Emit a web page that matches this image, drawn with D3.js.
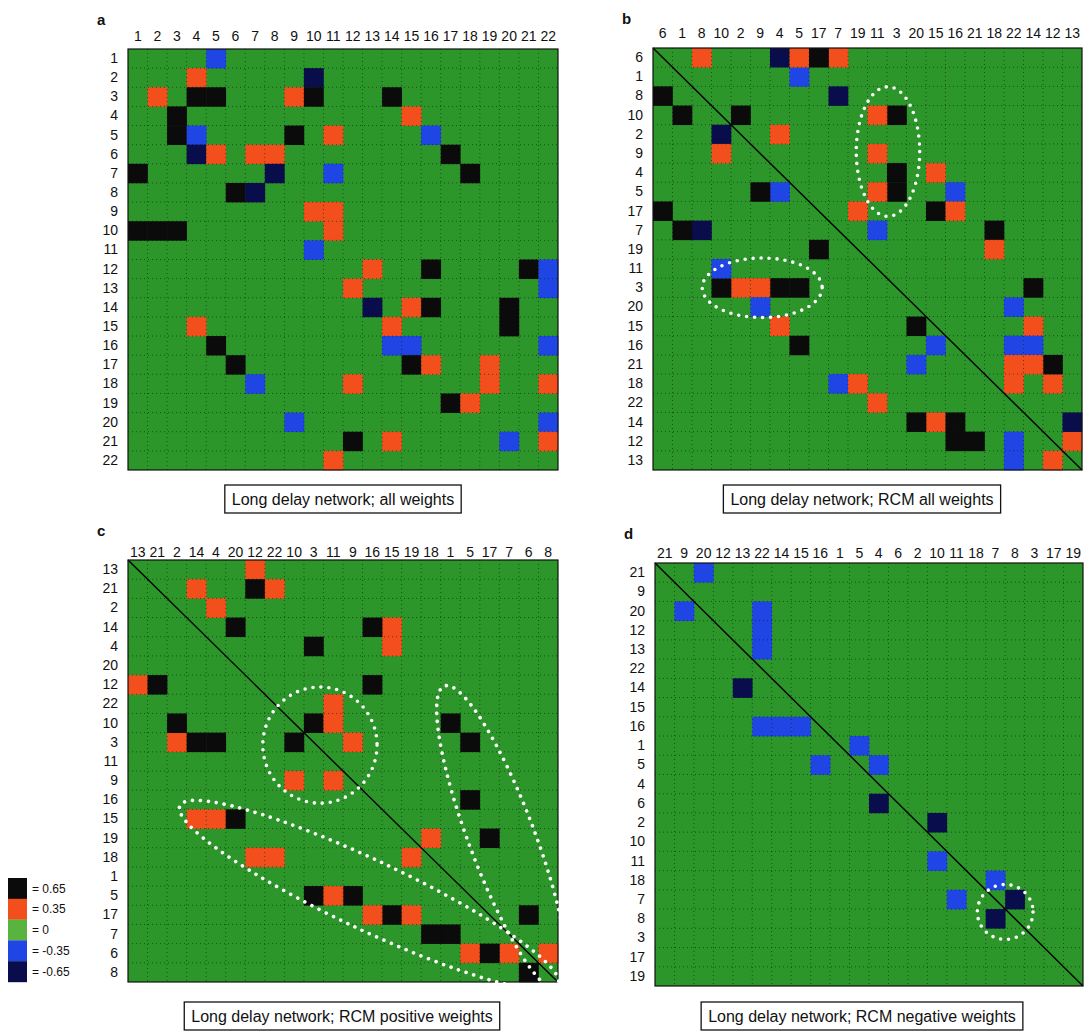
<!DOCTYPE html>
<html>
<head>
<meta charset="utf-8">
<script src="https://cdn.jsdelivr.net/npm/d3@7"></script>
<style>
  body { margin: 0; background: #fff; }
  svg { display: block; }
  text { font-family: "Liberation Sans", Arial, Helvetica, sans-serif; fill: #111; }
</style>
</head>
<body>
<svg id="fig" width="1085" height="1031"></svg>
<script>
// Node ids of the 22-unit network
const nodes = d3.range(1, 23);

// Connection weights of the long delay network: [row node, column node, weight]
const weights = [
  [1, 5, -0.35],
  [2, 4, 0.35], [2, 10, -0.65],
  [3, 2, 0.35], [3, 4, 0.65], [3, 5, 0.65], [3, 9, 0.35], [3, 10, 0.65], [3, 14, 0.65],
  [4, 3, 0.65], [4, 15, 0.35],
  [5, 3, 0.65], [5, 4, -0.35], [5, 9, 0.65], [5, 11, 0.35], [5, 16, -0.35],
  [6, 4, -0.65], [6, 5, 0.35], [6, 7, 0.35], [6, 8, 0.35], [6, 17, 0.65],
  [7, 1, 0.65], [7, 8, -0.65], [7, 11, -0.35], [7, 18, 0.65],
  [8, 6, 0.65], [8, 7, -0.65],
  [9, 10, 0.35], [9, 11, 0.35],
  [10, 1, 0.65], [10, 2, 0.65], [10, 3, 0.65], [10, 11, 0.35],
  [11, 10, -0.35],
  [12, 13, 0.35], [12, 16, 0.65], [12, 21, 0.65], [12, 22, -0.35],
  [13, 12, 0.35], [13, 22, -0.35],
  [14, 13, -0.65], [14, 15, 0.35], [14, 16, 0.65], [14, 20, 0.65],
  [15, 4, 0.35], [15, 14, 0.35], [15, 20, 0.65],
  [16, 5, 0.65], [16, 14, -0.35], [16, 15, -0.35], [16, 22, -0.35],
  [17, 6, 0.65], [17, 15, 0.65], [17, 16, 0.35], [17, 19, 0.35],
  [18, 7, -0.35], [18, 12, 0.35], [18, 19, 0.35], [18, 22, 0.35],
  [19, 17, 0.65], [19, 18, 0.35],
  [20, 9, -0.35], [20, 22, -0.35],
  [21, 12, 0.65], [21, 14, 0.35], [21, 20, -0.35], [21, 22, 0.35],
  [22, 11, 0.35]
];

// Node orderings from the reverse Cuthill-McKee (RCM) reordering
const orderAll = [6, 1, 8, 10, 2, 9, 4, 5, 17, 7, 19, 11, 3, 20, 15, 16, 21, 18, 22, 14, 12, 13];
const orderPositive = [13, 21, 2, 14, 4, 20, 12, 22, 10, 3, 11, 9, 16, 15, 19, 18, 1, 5, 17, 7, 6, 8];
const orderNegative = [21, 9, 20, 12, 13, 22, 14, 15, 16, 1, 5, 4, 6, 2, 10, 11, 18, 7, 8, 3, 17, 19];

// Colour levels
const levels = [0.65, 0.35, 0, -0.35, -0.65];
const levelLabels = ["= 0.65", "= 0.35", "= 0", "= -0.35", "= -0.65"];
const levelColors = ["#0b0b0b", "#f24f1d", "#2c962a", "#1f45e4", "#0a0d4c"];
const color = d3.scaleOrdinal().domain(levels).range(levelColors);

// Highlighted groups, in cell units of each panel: [cx, cy, rx, ry, rotation deg]
const groupsAll = [[12.05, 5.4, 1.64, 3.35, 0], [5.6, 12.5, 3.1, 1.54, 0]];
const groupsPositive = [[9.82, 9.65, 2.95, 3.0, 0], [12.33, 17.47, 10.8, 1.8, 25.3], [19.13, 14.5, 8.4, 1.7, 69.3]];
const groupsNegative = [[18.0, 18.15, 1.44, 1.42, 0]];

const panels = [
  { letter: "a", x: 128, y: 49, w: 430, h: 421, order: nodes, keep: () => true, diag: false,
    groups: [], colPad: 8, caption: "Long delay network; all weights", capX: 343, capY: 485 },
  { letter: "b", x: 653, y: 48, w: 429, h: 422, order: orderAll, keep: () => true, diag: true,
    groups: groupsAll, colPad: 10, caption: "Long delay network; RCM all weights", capX: 862, capY: 485 },
  { letter: "c", x: 128, y: 560, w: 430, h: 422, order: orderPositive, keep: v => v > 0, diag: true,
    groups: groupsPositive, colPad: 3, caption: "Long delay network; RCM positive weights", capX: 342, capY: 1002 },
  { letter: "d", x: 655, y: 563, w: 428, h: 423, order: orderNegative, keep: v => v < 0, diag: true,
    groups: groupsNegative, colPad: 5, caption: "Long delay network; RCM negative weights", capX: 862, capY: 1002 }
];

const svg = d3.select("#fig");

panels.forEach(p => {
  const g = svg.append("g").attr("transform", `translate(${p.x},${p.y})`);
  const x = d3.scaleBand().domain(p.order).range([0, p.w]);
  const y = d3.scaleBand().domain(p.order).range([0, p.h]);
  const bw = x.bandwidth(), bh = y.bandwidth();

  // background (zero weight)
  g.append("rect").attr("width", p.w).attr("height", p.h).attr("fill", color(0));

  // weight cells
  g.selectAll("rect.cell")
    .data(weights.filter(d => p.keep(d[2])))
    .join("rect")
    .attr("class", "cell")
    .attr("x", d => x(d[1]))
    .attr("y", d => y(d[0]))
    .attr("width", bw + 0.3)
    .attr("height", bh + 0.3)
    .attr("fill", d => color(d[2]));

  // dotted cell grid
  const bounds = d3.range(1, p.order.length);
  g.selectAll("line.vg").data(bounds).join("line")
    .attr("x1", i => i * bw).attr("x2", i => i * bw)
    .attr("y1", 0).attr("y2", p.h)
    .attr("stroke", "#000").attr("stroke-opacity", 0.5)
    .attr("stroke-width", 0.9).attr("stroke-dasharray", "1,3");
  g.selectAll("line.hg").data(bounds).join("line")
    .attr("y1", i => i * bh).attr("y2", i => i * bh)
    .attr("x1", 0).attr("x2", p.w)
    .attr("stroke", "#000").attr("stroke-opacity", 0.5)
    .attr("stroke-width", 0.9).attr("stroke-dasharray", "1,3");

  // diagonal reference line
  if (p.diag) {
    g.append("line").attr("x1", 0).attr("y1", 0).attr("x2", p.w).attr("y2", p.h)
      .attr("stroke", "#000").attr("stroke-width", 1.4);
  }

  // frame
  g.append("rect").attr("width", p.w).attr("height", p.h)
    .attr("fill", "none").attr("stroke", "#111").attr("stroke-width", 1.2);

  // highlighted groups
  const cs = (bw + bh) / 2;
  g.selectAll("ellipse.grp").data(p.groups).join("ellipse")
    .attr("transform", d => `translate(${d[0] * bw},${d[1] * bh}) rotate(${d[4]})`)
    .attr("rx", d => d[2] * cs).attr("ry", d => d[3] * cs)
    .attr("fill", "none").attr("stroke", "#fff")
    .attr("stroke-width", 3.6).attr("stroke-linecap", "round")
    .attr("stroke-dasharray", "0,8");

  // axes
  const top = g.append("g").call(d3.axisTop(x).tickSize(0).tickPadding(p.colPad));
  const left = g.append("g").call(d3.axisLeft(y).tickSize(0).tickPadding(10));
  [top, left].forEach(a => {
    a.select(".domain").remove();
    a.selectAll("text").style("font-size", "14px").attr("fill", "#111");
  });
  top.selectAll("text").attr("textLength", function () {
    const n = this.getComputedTextLength();
    return n > 16 ? 16 : null;
  }).attr("lengthAdjust", "spacingAndGlyphs");

  // panel letter
  svg.append("text").attr("x", p.x - 31).attr("y", p.y - 24)
    .style("font-size", "15px").style("font-weight", "bold").text(p.letter);

  // caption box
  const cap = svg.append("g");
  const t = cap.append("text").attr("x", p.capX).attr("y", p.capY + 20)
    .attr("text-anchor", "middle").style("font-size", "16px").text(p.caption);
  const tw = t.node().getComputedTextLength();
  cap.insert("rect", "text")
    .attr("x", p.capX - tw / 2 - 7).attr("y", p.capY)
    .attr("width", tw + 14).attr("height", 28)
    .attr("fill", "#fff").attr("stroke", "#111").attr("stroke-width", 1.3);
});

// colour legend
const legend = svg.append("g").attr("transform", "translate(8,878)");
legend.selectAll("rect").data(levels).join("rect")
  .attr("x", 0).attr("y", (d, i) => i * 20.8)
  .attr("width", 19).attr("height", 21)
  .attr("fill", d => d === 0 ? "#58b43e" : color(d));
legend.selectAll("text").data(levels).join("text")
  .attr("x", 24).attr("y", (d, i) => i * 20.8 + 14.5)
  .style("font-size", "12px")
  .text((d, i) => levelLabels[i]);
</script>
</body>
</html>
